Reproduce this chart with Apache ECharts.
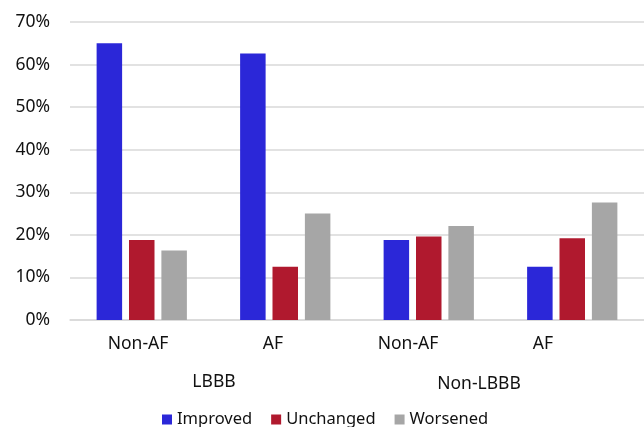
<!DOCTYPE html>
<html>
<head>
<meta charset="utf-8">
<script src="https://cdn.jsdelivr.net/npm/echarts@6/dist/echarts.min.js"></script>
<style>
  html, body { margin: 0; padding: 0; background: #fff; }
  #chart { width: 644px; height: 427px; }
</style>
</head>
<body>
<div id="chart"></div>
<script>
// Subgroups along the x axis and their parent groups
var categories = ['Non-AF', 'AF', 'Non-AF', 'AF'];
var groups = ['LBBB', 'Non-LBBB'];

// Share of patients (%) per outcome
var improved  = [65.0, 62.6, 18.8, 12.5];
var unchanged = [18.8, 12.5, 19.6, 19.2];
var worsened  = [16.3, 25.0, 22.1, 27.6];

var yTicks = { min: 0, max: 70, interval: 10 };

var FONT = 'Noto Sans';
var TEXT = '#111';
var SIZE = 17.5;

var chart = echarts.init(document.getElementById('chart'), null, { renderer: 'canvas' });

chart.setOption({
  animation: false,
  textStyle: { fontFamily: FONT },
  grid: [
    { left: 70, top: 22, width: 586, bottom: 107 },
    { left: 70.5, top: 22, width: 540, bottom: 107 }
  ],
  legend: {
    left: 157,
    top: 406,
    itemWidth: 10,
    itemHeight: 10,
    itemGap: 19,
    icon: 'rect',
    textStyle: { fontFamily: FONT, fontSize: 16.5, color: TEXT },
    data: ['Improved', 'Unchanged', 'Worsened']
  },
  xAxis: [
    {
      type: 'category',
      gridIndex: 0,
      data: categories,
      axisLine: { show: true, lineStyle: { color: '#d9d9d9', width: 1.5 } },
      axisTick: { show: false },
      axisLabel: { show: false }
    },
    {
      type: 'category',
      gridIndex: 1,
      data: categories,
      axisLine: { show: false },
      axisTick: { show: false },
      axisLabel: { margin: 15, fontSize: SIZE, color: TEXT, fontFamily: FONT }
    }
  ],
  yAxis: [
    {
      type: 'value',
      gridIndex: 0,
      min: yTicks.min,
      max: yTicks.max,
      interval: yTicks.interval,
      axisLine: { show: false },
      axisTick: { show: false },
      axisLabel: { formatter: '{value}%', margin: 20, fontSize: SIZE, color: TEXT, fontFamily: FONT },
      splitLine: { lineStyle: { color: '#d9d9d9', width: 1.5 } }
    },
    {
      type: 'value',
      gridIndex: 1,
      min: yTicks.min,
      max: yTicks.max,
      show: false,
      splitLine: { show: false }
    }
  ],
  series: [
    { name: 'Improved', type: 'bar', data: improved, barWidth: 25.5, barGap: '27%',
      itemStyle: { color: '#2b27d8' } },
    { name: 'Unchanged', type: 'bar', data: unchanged, barWidth: 25.5, barGap: '27%',
      itemStyle: { color: '#b0192e' } },
    { name: 'Worsened', type: 'bar', data: worsened, barWidth: 25.5, barGap: '27%',
      itemStyle: { color: '#a6a6a6' } }
  ],
  graphic: [
    { type: 'text', x: 214, y: 382,
      style: { text: groups[0], fontSize: SIZE, fontFamily: FONT, fill: TEXT, align: 'center', verticalAlign: 'middle' } },
    { type: 'text', x: 479, y: 384,
      style: { text: groups[1], fontSize: SIZE, fontFamily: FONT, fill: TEXT, align: 'center', verticalAlign: 'middle' } }
  ]
});
</script>
</body>
</html>
